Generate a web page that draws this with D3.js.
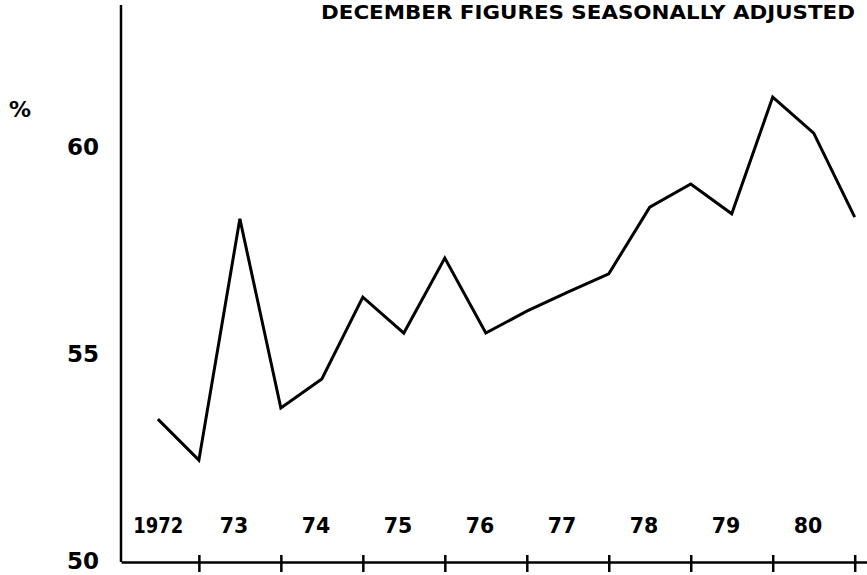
<!DOCTYPE html>
<html>
<head>
<meta charset="utf-8">
<script src="https://cdn.jsdelivr.net/npm/d3@7"></script>
<style>
  body { margin: 0; background: #fff; }
  svg text { font-family: "DejaVu Sans", sans-serif; font-weight: bold; fill: #000; }
</style>
</head>
<body>
<div id="chartDiv"></div>
<script>
// half-yearly readings (June and December), x in fractional years
var periods = [1972.5, 1973.0, 1973.5, 1974.0, 1974.5, 1975.0, 1975.5, 1976.0, 1976.5,
               1977.0, 1977.5, 1978.0, 1978.5, 1979.0, 1979.5, 1980.0, 1980.5, 1981.0];
var values = [53.45, 52.46, 58.29, 53.72, 54.42, 56.40, 55.53, 57.34, 55.53,
              56.06, 56.52, 56.96, 58.57, 59.13, 58.41, 61.23, 60.36, 58.33];

var yearLabels = ["1972", "73", "74", "75", "76", "77", "78", "79", "80"];
var yearStarts = [1972, 1973, 1974, 1975, 1976, 1977, 1978, 1979, 1980];
var tickYears = [1973, 1974, 1975, 1976, 1977, 1978, 1979, 1980, 1981];
var yTicks = [50, 55, 60];
var title = "DECEMBER FIGURES SEASONALLY ADJUSTED";

var svgWidth = 867;
var svgHeight = 575;

var svg = d3.select('#chartDiv')
            .append('svg')
            .attr('width', svgWidth)
            .attr('height', svgHeight);

var x = d3.scaleLinear()
          .domain([1972.05, 1981.15])
          .range([121, 867]);

var y = d3.scaleLinear()
          .domain([50, 60])
          .range([562, 148]);

// y axis line (no ticks)
svg.append('line')
   .attr('x1', x(1972.05)).attr('x2', x(1972.05))
   .attr('y1', 5).attr('y2', y(50))
   .attr('stroke', '#000')
   .attr('stroke-width', 2.5);

// x axis with ticks crossing the line
var xAxis = d3.axisBottom(x)
              .tickValues(tickYears)
              .tickSize(10)
              .tickSizeOuter(0)
              .tickFormat('');

var gx = svg.append('g')
            .attr('transform', 'translate(0,' + y(50) + ')')
            .call(xAxis);
gx.select('.domain').attr('stroke', '#000').attr('stroke-width', 2.5);
gx.selectAll('.tick line')
  .attr('y1', -7)
  .attr('stroke', '#000')
  .attr('stroke-width', 2.5);

// year labels inside the plot, above the axis
svg.selectAll('.yearLabel')
   .data(yearStarts)
   .enter()
   .append('text')
   .attr('class', 'yearLabel')
   .attr('x', function(d, i) { return x(d + 0.43) + (i === 0 ? 6 : 0); })
   .attr('y', 533)
   .attr('text-anchor', 'middle')
   .attr('textLength', function(d, i) { return yearLabels[i].length > 2 ? 50 : null; })
   .attr('lengthAdjust', 'spacingAndGlyphs')
   .style('font-size', '20.5px')
   .text(function(d, i) { return yearLabels[i]; });

// y labels
svg.selectAll('.yLabel')
   .data(yTicks)
   .enter()
   .append('text')
   .attr('class', 'yLabel')
   .attr('x', 99)
   .attr('y', function(d) { return y(d) + 7; })
   .attr('text-anchor', 'end')
   .style('font-size', '23px')
   .text(function(d) { return d; });

svg.append('text')
   .attr('x', 20)
   .attr('y', 117)
   .attr('text-anchor', 'middle')
   .style('font-size', '22px')
   .text('%');

svg.append('text')
   .attr('x', 321)
   .attr('y', 19)
   .attr('textLength', 534)
   .attr('lengthAdjust', 'spacingAndGlyphs')
   .style('font-size', '19px')
   .text(title);

// the series line
var line = d3.line()
             .x(function(d, i) { return x(periods[i]); })
             .y(function(d) { return y(d); });

svg.append('path')
   .datum(values)
   .attr('d', line)
   .attr('fill', 'none')
   .attr('stroke', '#000')
   .attr('stroke-width', 3)
   .attr('stroke-linejoin', 'miter');
</script>
</body>
</html>
